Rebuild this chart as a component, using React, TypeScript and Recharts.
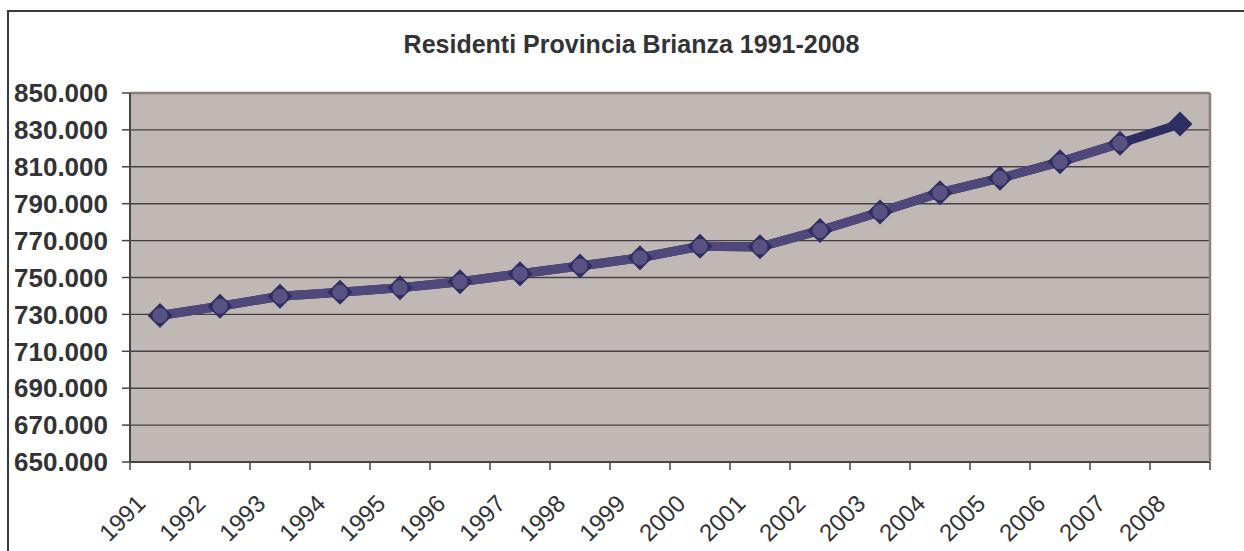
import { CartesianGrid, Line, LineChart, ReferenceLine, XAxis, YAxis } from "recharts";

const years = [
  "1991", "1992", "1993", "1994", "1995", "1996", "1997", "1998", "1999",
  "2000", "2001", "2002", "2003", "2004", "2005", "2006", "2007", "2008",
];
// residents per year (dark series, diamonds)
const residents = [
  729400, 734400, 739800, 742000, 744400, 747700, 752000, 756200, 760700,
  766900, 766600, 775500, 785500, 796000, 803800, 812700, 822700, 833200,
];
// lighter overlay series, stops at 2007
const overlay = [
  729400, 734400, 739800, 742000, 744400, 747700, 752000, 756200, 760700,
  766900, 766600, 775500, 785500, 796000, 803800, 812700, 822700, null,
];
const yTicks = [650000, 670000, 690000, 710000, 730000, 750000, 770000, 790000, 810000, 830000, 850000];
const Y_DOMAIN = [650000, 850000];

const TEXT = "#333336";
const FONT = "'Liberation Sans', Arial, sans-serif";
const DARK = "#2f2e63";
const LIGHT = "#50477a";
const CIRCLE = "#5a5183";
const AXIS = "#4a4545";
const FRAME = "#8a807c";

const data = years.map((year, i) => ({ year, residents: residents[i], overlay: overlay[i] }));

const fmt = (v: number) => String(v).replace(/\B(?=(\d{3})+(?!\d))/g, ".");

function Diamond(props: any) {
  const { cx, cy } = props;
  if (cx == null || cy == null) return null;
  const r = 12.5;
  return <path d={`M${cx},${cy - r}L${cx + r},${cy}L${cx},${cy + r}L${cx - r},${cy}Z`} fill={DARK} />;
}

function Dot(props: any) {
  const { cx, cy, value } = props;
  if (cx == null || cy == null || value == null) return null;
  return <circle cx={cx} cy={cy} r={7.5} fill={CIRCLE} />;
}

// label rotated like Excel, plus the tick mark on the category boundary
function YearTick(props: any) {
  const { x, y, payload, index } = props;
  const half = payload.offset ?? 0;
  const tx = x - 13;
  const ty = y + 43;
  return (
    <g>
      <line x1={x - half} x2={x - half} y1={y} y2={y + 8} stroke={AXIS} strokeWidth={1.5} />
      {index === years.length - 1 && (
        <line x1={x + half} x2={x + half} y1={y} y2={y + 8} stroke={AXIS} strokeWidth={1.5} />
      )}
      <text x={tx} y={ty} transform={`rotate(-45 ${tx} ${ty})`} textAnchor="end" fill={TEXT} fontSize={24} fontFamily={FONT}>
        {payload.value}
      </text>
    </g>
  );
}

export default function App() {
  return (
    <div style={{ position: "fixed", left: 0, top: 0, width: 1244, height: 551, overflow: "hidden", background: "#fff" }}>
      <div style={{ position: "absolute", left: 7, top: 10, width: 1240, height: 600, border: "2px solid #3a3a3a" }} />
      <div
        style={{
          position: "absolute", left: 0, top: 32, width: 1263, textAlign: "center",
          fontFamily: FONT, fontWeight: "bold", fontSize: 25, lineHeight: 1, color: TEXT,
        }}
      >
        Residenti Provincia Brianza 1991-2008
      </div>
      <div style={{ position: "absolute", left: 0, top: 0 }}>
        <LineChart width={1244} height={551} data={data} margin={{ top: 93, right: 33, bottom: 9, left: 8 }}>
          <CartesianGrid fill="#c0b8b5" stroke="#454045" strokeWidth={1.4} vertical={false} />
          <XAxis
            dataKey="year" interval={0} height={80} scale="band" tickLine={false} tickSize={0} tickMargin={0}
            axisLine={{ stroke: AXIS, strokeWidth: 2 }}
            tick={<YearTick />}
          />
          <YAxis
            domain={Y_DOMAIN} ticks={yTicks} interval={0} width={122} tickSize={8} tickMargin={14}
            tickFormatter={fmt}
            tick={{ fill: TEXT, fontSize: 26, fontWeight: "bold", fontFamily: FONT }}
            axisLine={{ stroke: AXIS, strokeWidth: 2 }} tickLine={{ stroke: AXIS, strokeWidth: 1.5 }}
          />
          <YAxis
            yAxisId="right" orientation="right" domain={Y_DOMAIN} width={1} tick={false} tickLine={false}
            axisLine={{ stroke: FRAME, strokeWidth: 2.5 }}
          />
          <ReferenceLine y={850000} stroke={FRAME} strokeWidth={2.5} />
          <Line dataKey="residents" stroke={DARK} strokeWidth={9} dot={false} activeDot={false} isAnimationActive={false} />
          <Line dataKey="overlay" stroke={LIGHT} strokeWidth={9} dot={false} activeDot={false} isAnimationActive={false} />
          <Line yAxisId="right" dataKey="residents" stroke="none" strokeWidth={0} dot={<Diamond />} activeDot={false} isAnimationActive={false} />
          <Line yAxisId="right" dataKey="overlay" stroke="none" strokeWidth={0} dot={<Dot />} activeDot={false} isAnimationActive={false} />
        </LineChart>
      </div>
    </div>
  );
}
